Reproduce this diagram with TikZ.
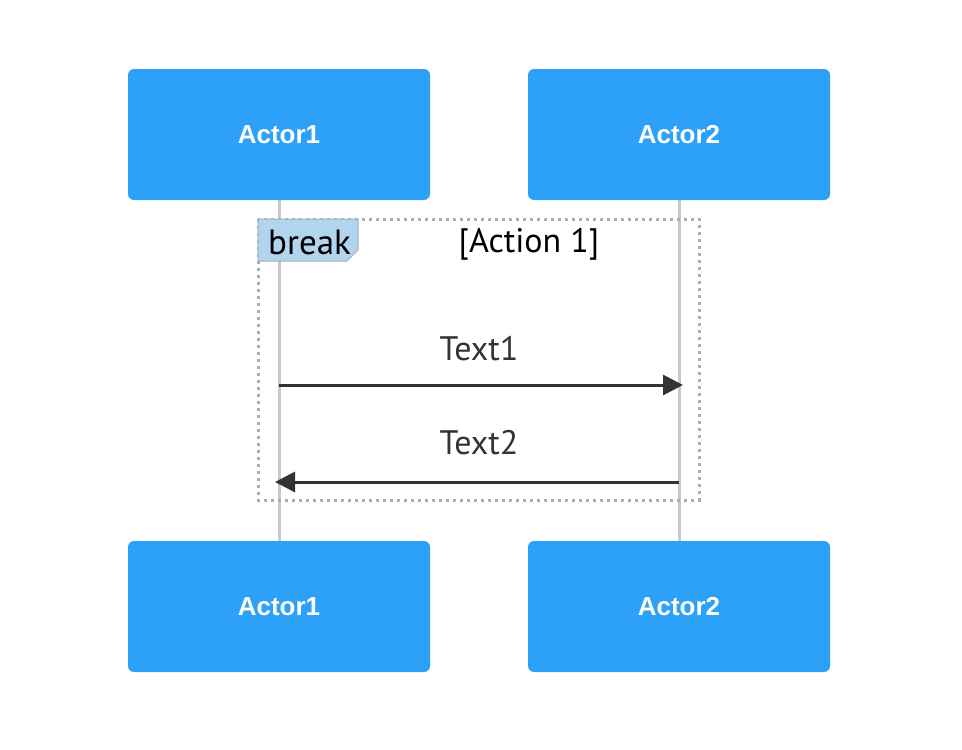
\documentclass[tikz,border=0pt]{standalone}
\usepackage{fontspec}
\setmainfont{PT Sans}
\newfontfamily\actorfont{Liberation Sans}
\usetikzlibrary{arrows.meta,positioning,calc}
\definecolor{actorblue}{HTML}{2DA1F7}
\definecolor{lifegray}{HTML}{C8C8C8}
\definecolor{framegray}{HTML}{9FB2BA}
\definecolor{labelblue}{HTML}{B2D5EE}
\definecolor{msgdark}{HTML}{333333}

\tikzset{
  actor/.style={fill=actorblue,rounded corners=6pt,minimum width=302pt,minimum height=131pt,
    font=\actorfont\fontsize{26}{29}\selectfont\bfseries,text=white,inner sep=0pt},
  lifeline/.style={lifegray,line width=3pt},
  msg/.style={msgdark,line width=3pt,-{Triangle[length=20pt,width=20pt]}},
  msgtext/.style={font=\fontsize{34}{38}\selectfont,text=msgdark},
}

\begin{document}
\begin{tikzpicture}[x=1pt,y=-1pt]
  \useasboundingbox (0,0) rectangle (962,750);

  % Actors (top and bottom)
  \node[actor] (a1top) at (279,134.5) {Actor1};
  \node[actor] (a2top) at (679,134.5) {Actor2};
  \node[actor] (a1bot) at (279,606.5) {Actor1};
  \node[actor] (a2bot) at (679,606.5) {Actor2};

  % Lifelines
  \draw[lifeline] (a1top.south) -- (a1bot.north);
  \draw[lifeline] (a2top.south) -- (a2bot.north);

  % Break frame
  \draw[framegray,line width=3pt,dash pattern=on 3pt off 4pt] (258,219) rectangle (699,500);
  \filldraw[fill=labelblue,draw=framegray,line width=1pt] (258,219) -- (358,219) -- (358,250) -- (347,261) -- (258,261) -- cycle;
  \node[font=\fontsize{35}{39}\selectfont,anchor=west,inner sep=0pt] (brk) at (268,242) {break};
  \node[font=\fontsize{34}{38}\selectfont] (cond) at (529,244) {[Action 1]};

  % Messages
  \coordinate (m1s) at (279,385);
  \coordinate (m1e) at (683,385);
  \coordinate (m2s) at (679,482);
  \coordinate (m2e) at (275,482);
  \draw[msg] (m1s) -- (m1e);
  \draw[msg] (m2s) -- (m2e);
  \node[msgtext] (t1) at (479,349) {Text1};
  \node[msgtext] (t2) at (479,443) {Text2};
\end{tikzpicture}
\end{document}
